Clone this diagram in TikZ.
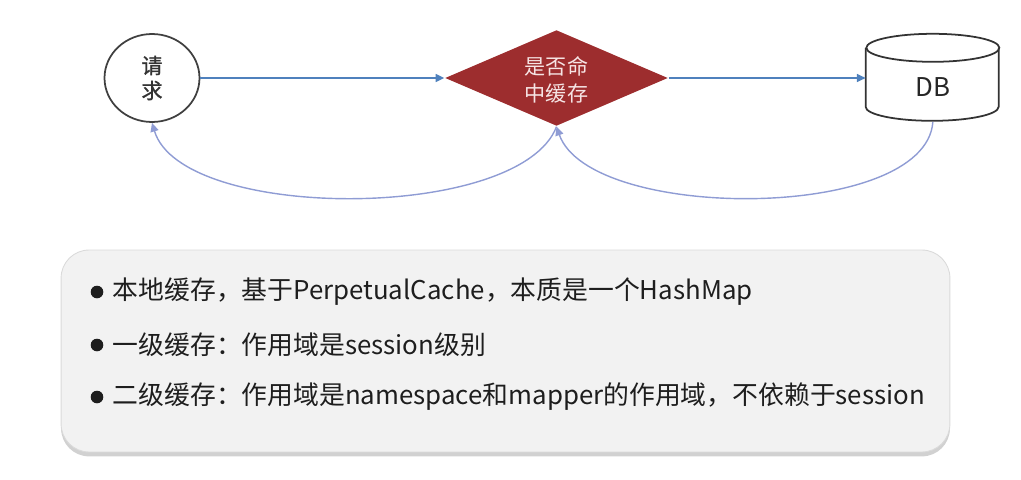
\documentclass[tikz,border=0pt]{standalone}
\usepackage{fontspec}
\setmainfont{Noto Sans CJK SC}
\newfontfamily\heavycjk[FakeBold=1.2]{Noto Sans CJK SC}
\usetikzlibrary{positioning}
\usetikzlibrary{shapes.geometric}
\usetikzlibrary{arrows.meta}
\usetikzlibrary{shadows}
\definecolor{linkblue}{RGB}{79,129,189}
\definecolor{backblue}{RGB}{143,156,212}
\definecolor{hitred}{RGB}{157,45,46}
\definecolor{hittext}{RGB}{246,228,228}
\definecolor{notefill}{RGB}{242,242,242}
\definecolor{noteline}{RGB}{218,218,218}
\definecolor{inktext}{RGB}{30,30,30}

\begin{document}
\begin{tikzpicture}[x=0.02cm,y=-0.02cm,->,>={Triangle[length=5pt,width=4.6pt]},
			line width=0.8pt]
			\tikzstyle{every node}=[inner sep=0pt]
			\tikzstyle{start}=[draw=black!75,ellipse,line width=1pt,minimum width=1.9cm,minimum height=1.76cm,
				align=center,text=black!80,font=\heavycjk\fontsize{12}{14.2}\selectfont]
			\tikzstyle{check}=[diamond,fill=hitred,aspect=2.32,minimum width=4.46cm,minimum height=1.92cm,
				align=center,text=hittext,font=\fontsize{12}{15.3}\selectfont]
			\tikzstyle{store}=[rectangle,minimum width=2.66cm,minimum height=1.74cm,text=black!85,
				font=\fontsize{14.7}{17}\selectfont]
			\tikzstyle{dbline}=[-,draw=black!80,line width=1pt]
			\tikzstyle{note}=[rectangle,rounded corners=0.56cm,fill=notefill,draw=noteline,line width=0.5pt,
				minimum width=17.78cm,minimum height=4.04cm,
				drop shadow={shadow xshift=0pt,shadow yshift=-2.5pt,opacity=0.45,fill=black!40}]
			\tikzstyle{item}=[anchor=west,text=inktext,font=\fontsize{14.7}{17}\selectfont]
			
			\useasboundingbox (0,0) rectangle (1021,480);
			
			\node[start]         (req) at (152,78)           {请\\求};
			\node[check]         (hit) [right=4.88cm of req]  {\raisebox{-2.8pt}[\height][\depth]{\begin{tabular}{@{}c@{}}是否命\\中缓存\end{tabular}}};
			\node[store]         (db)  [right=3.94cm of hit]  {\raisebox{-5pt}[\height][\depth]{DB}};
			
			% the drum round DB
			\draw[dbline] (db.north) ++(0,14) ellipse [x radius=1.33cm,y radius=0.28cm];
			\draw[dbline] (db.north west) ++(0,14) -- ++(0,59)
			arc [start angle=180,end angle=360,x radius=1.33cm,y radius=0.28cm] -- ++(0,-59);
			
			\path[linkblue] (req) edge (hit)
			(hit) edge (db);
			
			\draw[backblue] (hit.south) .. controls (520,222) and (182,222) .. (req.south);
			\draw[backblue] (db.south) .. controls (925,222) and (590,222) .. (hit.south);
			
			\node[note]          (box) at (505.5,351)         {};
			\node[item]          (l1)  at (112,292)           {本地缓存，基于PerpetualCache，本质是一个HashMap};
			\node[item]          (l2)  at (112,345)           {一级缓存：作用域是session级别};
			\node[item]          (l3)  at (112,397)           {二级缓存：作用域是namespace和mapper的作用域，不依赖于session};
			
			\foreach \y in {292,345,397}
			\fill[-,inktext] (97,\y) circle (6.3);
			
			;
			\end{tikzpicture}
\end{document}
